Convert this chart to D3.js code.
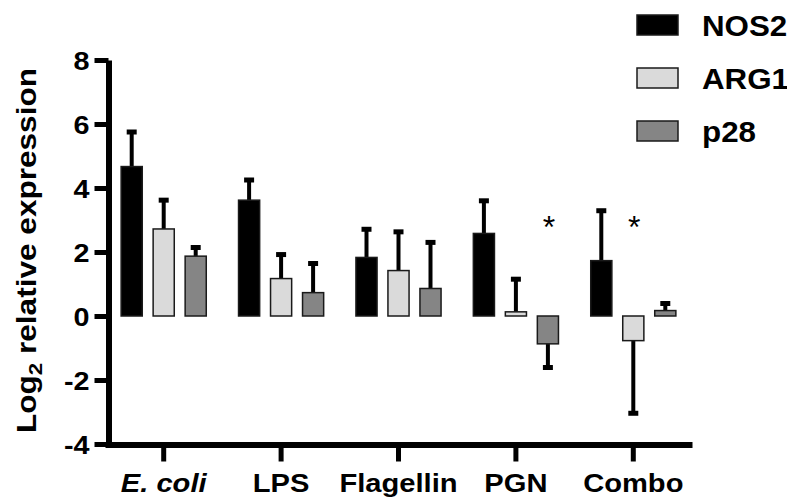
<!DOCTYPE html>
<html>
<head>
<meta charset="utf-8">
<script src="https://cdn.jsdelivr.net/npm/d3@7"></script>
<style>
  body { margin: 0; background: #fff; }
  text { font-family: "Liberation Sans", Arial, sans-serif; font-weight: bold; fill: #000; }
</style>
</head>
<body>
<script>
// data
const groups = ['E. coli', 'LPS', 'Flagellin', 'PGN', 'Combo']
const series = ['NOS2', 'ARG1', 'p28']
const nos2 = [4.67, 3.62, 1.83, 2.58, 1.73]
const nos2Err = [1.08, 0.63, 0.88, 1.02, 1.56]
const arg1 = [2.72, 1.17, 1.42, 0.13, -0.77]
const arg1Err = [0.90, 0.75, 1.21, 1.02, 2.27]
const p28 = [1.87, 0.73, 0.86, -0.87, 0.17]
const p28Err = [0.27, 0.91, 1.44, 0.74, 0.22]
const yTicks = [-4, -2, 0, 2, 4, 6, 8]
const stars = [['PGN', 'p28'], ['Combo', 'ARG1']]
const colors = { NOS2: '#000000', ARG1: '#dadada', p28: '#858585' }

const svgw = 787
const svgh = 497

const svg = d3.select('body').append('svg').attr('width', svgw).attr('height', svgh)

const x0 = d3.scaleBand().domain(groups).range([105, 692])
const x1 = d3.scaleBand().domain(series).range([-48, 48]).paddingInner(0.34).paddingOuter(0.17)
const y = d3.scaleLinear().domain([-4, 8]).range([444, 60])

// the original glyphs are a bit wider than Liberation Sans
const widen = (sel, f) => sel.each(function () {
	const len = this.getComputedTextLength()
	d3.select(this).attr('textLength', len * f).attr('lengthAdjust', 'spacingAndGlyphs')
})

const values = { NOS2: nos2, ARG1: arg1, p28: p28 }
const errs = { NOS2: nos2Err, ARG1: arg1Err, p28: p28Err }
const rows = []
groups.forEach((g, i) => {
	series.forEach(s => rows.push({ g, s, v: values[s][i], e: errs[s][i] }))
})
const cx = d => x0(d.g) + x0.bandwidth() / 2 + x1(d.s) + x1.bandwidth() / 2
const tip = d => d.v >= 0 ? d.v + d.e : d.v - d.e

// error bars (behind bars)
svg.append('g').selectAll('line')
	.data(rows)
	.enter()
	.append('line')
	.attr('x1', cx).attr('x2', cx)
	.attr('y1', d => y(d.v))
	.attr('y2', d => y(tip(d)))
	.attr('stroke', '#000').attr('stroke-width', 4)

svg.append('g').selectAll('line')
	.data(rows)
	.enter()
	.append('line')
	.attr('x1', d => cx(d) - 5).attr('x2', d => cx(d) + 5)
	.attr('y1', d => y(tip(d))).attr('y2', d => y(tip(d)))
	.attr('stroke', '#000').attr('stroke-width', 5)

// bars
svg.append('g').selectAll('rect')
	.data(rows)
	.enter()
	.append('rect')
	.attr('x', d => cx(d) - x1.bandwidth() / 2)
	.attr('width', x1.bandwidth())
	.attr('y', d => y(Math.max(0, d.v)))
	.attr('height', d => Math.abs(y(d.v) - y(0)))
	.attr('fill', d => colors[d.s])
	.attr('stroke', '#1a1a1a')
	.attr('stroke-width', 1.5)

// significance stars
svg.append('g').selectAll('text')
	.data(stars)
	.enter()
	.append('text')
	.attr('x', d => x0(d[0]) + x0.bandwidth() / 2 + x1(d[1]) + x1.bandwidth() / 2 + 1)
	.attr('y', y(3) + 18)
	.attr('text-anchor', 'middle')
	.style('font-weight', 'normal')
	.style('font-size', '32px')
	.text('*')

// axes
const yAxis = d3.axisLeft(y).tickValues(yTicks).tickFormat(d => String(d))
	.tickSize(14).tickSizeOuter(0).tickPadding(5)
const xAxis = d3.axisBottom(x0).tickSize(17).tickSizeOuter(0).tickPadding(8)

const gy = svg.append('g').attr('transform', 'translate(108.5,0)').call(yAxis)
const gx = svg.append('g').attr('transform', 'translate(0,444.5)').call(xAxis)

;[gy, gx].forEach(g => {
	g.select('.domain').attr('stroke', '#000').attr('stroke-width', 6)
	g.selectAll('.tick line').attr('stroke', '#000').attr('stroke-width', 5)
})
gy.selectAll('.tick text').style('font-size', '25px').attr('dy', '0.36em').call(widen, 1.15)
gx.selectAll('.tick text').style('font-size', '26px').attr('dy', '0.85em')
	.style('font-style', d => d === 'E. coli' ? 'italic' : 'normal')
	.call(widen, 1.12)

// y title
const title = svg.append('text')
	.attr('transform', 'translate(36,250.5) rotate(-90)')
	.attr('text-anchor', 'middle')
	.style('font-size', '27px')
	.attr('textLength', 365)
	.attr('lengthAdjust', 'spacingAndGlyphs')
title.append('tspan').text('Log')
title.append('tspan').text('2').style('font-size', '19px').attr('dy', 6)
title.append('tspan').text(' relative expression').attr('dy', -6)

// legend
const leg = svg.append('g').selectAll('g')
	.data(series)
	.enter()
	.append('g')
	.attr('transform', (d, i) => `translate(637,${15 + i * 53})`)
leg.append('rect')
	.attr('width', 41).attr('height', 20)
	.attr('fill', d => colors[d])
	.attr('stroke', '#1a1a1a').attr('stroke-width', 1.5)
leg.append('text')
	.attr('x', 65).attr('y', 21)
	.style('font-size', '29px')
	.text(d => d)
	.call(widen, 1.08)
</script>
</body>
</html>
